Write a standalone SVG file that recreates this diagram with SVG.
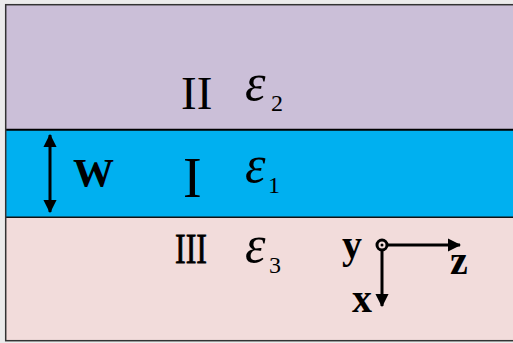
<svg xmlns="http://www.w3.org/2000/svg" width="513" height="343" viewBox="0 0 513 343">
<style>
.roman{font-family:"Liberation Serif","Times New Roman",serif;fill:#000}
.eps{font-family:"Liberation Serif","Times New Roman",serif;font-style:italic;fill:#000;font-size:52px}
.sub{font-family:"Liberation Serif","Times New Roman",serif;fill:#000;font-size:24px}
.bold{font-family:"Liberation Serif","Times New Roman",serif;font-weight:bold;fill:#000}
.arr{stroke:#000;stroke-width:3;fill:none}
</style>
<defs>
<marker id="ah" viewBox="0 0 12 12" refX="11" refY="6" markerWidth="4.5" markerHeight="4.5" orient="auto-start-reverse" markerUnits="strokeWidth">
<path d="M0,0 L12,6 L0,12 Z" fill="#000"/>
</marker>
</defs>
<rect x="0" y="0" width="513" height="343" fill="#ebebeb"/>
<g id="layer2">
<rect x="6" y="5" width="507" height="125" fill="#CBBFD8"/>
<text class="roman" x="181" y="109" font-size="47">II</text>
<text class="eps" x="245" y="100">ε</text>
<text class="sub" x="271" y="111">2</text>
</g>
<g id="layer1">
<rect x="6" y="130" width="507" height="87" fill="#00B0F0"/>
<text class="roman" x="183" y="197" font-size="56">I</text>
<text class="eps" x="245" y="182">ε</text>
<text class="sub" x="268" y="193">1</text>
<text class="bold" x="73" y="186" font-size="41">W</text>
</g>
<g id="layer3">
<rect x="6" y="217" width="507" height="124" fill="#F2DCDB"/>
<text class="roman" x="175" y="263" font-size="42" textLength="32" lengthAdjust="spacingAndGlyphs" stroke="#000" stroke-width="0.8">III</text>
<text class="eps" x="245" y="262">ε</text>
<text class="sub" x="269" y="273">3</text>
</g>
<g id="frame">
<line x1="6" y1="129.8" x2="513" y2="129.8" stroke="#000" stroke-width="2"/>
<line x1="6" y1="217.3" x2="513" y2="217.3" stroke="#111" stroke-width="1.5"/>
<rect x="5.7" y="4.7" width="510" height="336" fill="none" stroke="#333" stroke-width="1.5"/>
</g>
<g id="axes">
<text class="bold" x="342" y="258" font-size="40">y</text>
<text class="bold" x="450" y="274" font-size="40">z</text>
<text class="bold" x="352" y="312" font-size="40">x</text>
<circle cx="382" cy="245" r="5" fill="none" stroke="#000" stroke-width="3"/>
<circle cx="382" cy="245" r="1.5" fill="#000"/>
</g>
<g id="connectors">
<line class="arr" x1="50" y1="135" x2="50" y2="212" marker-start="url(#ah)" marker-end="url(#ah)"/>
<line class="arr" x1="387" y1="245" x2="460" y2="245" marker-end="url(#ah)"/>
<line class="arr" x1="382" y1="250" x2="382" y2="306" marker-end="url(#ah)"/>
</g>
</svg>
